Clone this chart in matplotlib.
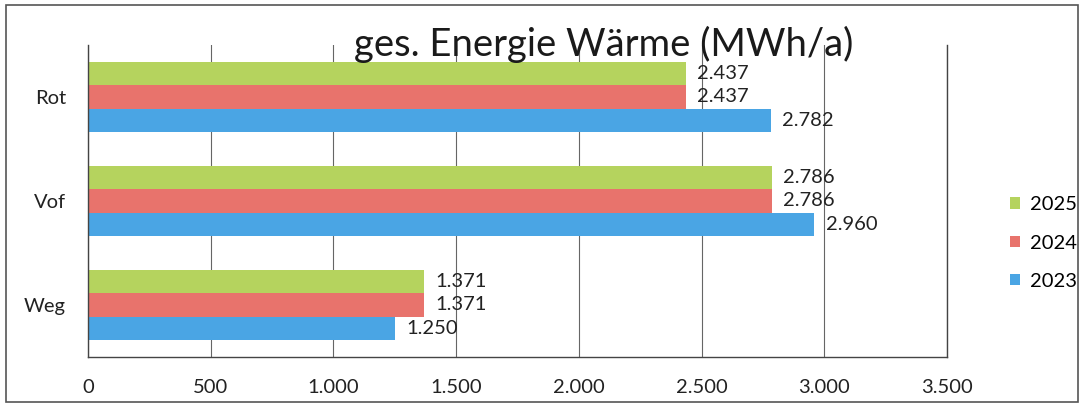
import numpy as np
import matplotlib.pyplot as plt
from matplotlib.patches import Rectangle

plt.rcParams['font.family'] = ['Lato', 'DejaVu Sans']

categories = ["Weg", "Vof", "Rot"]
years = ["2025", "2024", "2023"]
values_2025 = [1371, 2786, 2437]
values_2024 = [1371, 2786, 2437]
values_2023 = [1250, 2960, 2782]
colors = ["#b5d35e", "#e8736c", "#4aa5e4"]
x_ticks = [0, 500, 1000, 1500, 2000, 2500, 3000, 3500]


def fmt(v):
    # German thousands separator
    return f"{v:,.0f}".replace(",", ".")


W, H = 1083, 405
fig = plt.figure(figsize=(W / 100, H / 100), dpi=100)
ax = fig.add_axes([88 / W, (H - 357) / H, (947 - 88) / W, (357 - 45) / H])

pos = np.arange(len(categories))
h = 0.224
series = [values_2025, values_2024, values_2023]
for i, (vals, year, col) in enumerate(zip(series, years, colors)):
    y = pos + (1 - i) * h
    bars = ax.barh(y, vals, height=h, color=col, label=year, zorder=2)
    for b, v in zip(bars, vals):
        ax.annotate(fmt(v), (b.get_width(), b.get_y() + h / 2),
                    xytext=(8, 0), textcoords="offset points",
                    va="center", ha="left", fontsize=14.5, color="#222222")

ax.set_xlim(0, 3500)
ax.set_ylim(-0.5, len(categories) - 0.5)
ax.set_xticks(x_ticks)
ax.set_xticklabels([fmt(t) for t in x_ticks], fontsize=14.5, color="#222222")
ax.set_yticks(pos)
ax.set_yticklabels(categories, fontsize=14.5, color="#222222")
ax.tick_params(axis="x", length=0, pad=16)
ax.tick_params(axis="y", length=0, pad=16)
ax.grid(axis="x", color="#666666", linewidth=0.8, zorder=1)
for side in ["left", "bottom", "right"]:
    ax.spines[side].set_color("#444444")
    ax.spines[side].set_linewidth(1.0)
ax.spines["top"].set_visible(False)

fig.text(604 / W, (H - 44) / H, "ges. Energie Wärme (MWh/a)",
         ha="center", va="center", fontsize=27.5, color="#1a1a1a")

handles, labels = ax.get_legend_handles_labels()
fig.legend(handles, labels, loc="center left",
           bbox_to_anchor=(992 / W, (H - 243) / H), frameon=False,
           fontsize=14.5, handlelength=0.5, handleheight=0.5,
           handletextpad=0.5, labelspacing=1.05)

fig.add_artist(Rectangle((6 / W, 3 / H), (1078 - 6) / W, (400 - 3) / H,
                         transform=fig.transFigure, fill=False,
                         edgecolor="#555555", linewidth=1.2))

fig.savefig("out.png", dpi=100)
